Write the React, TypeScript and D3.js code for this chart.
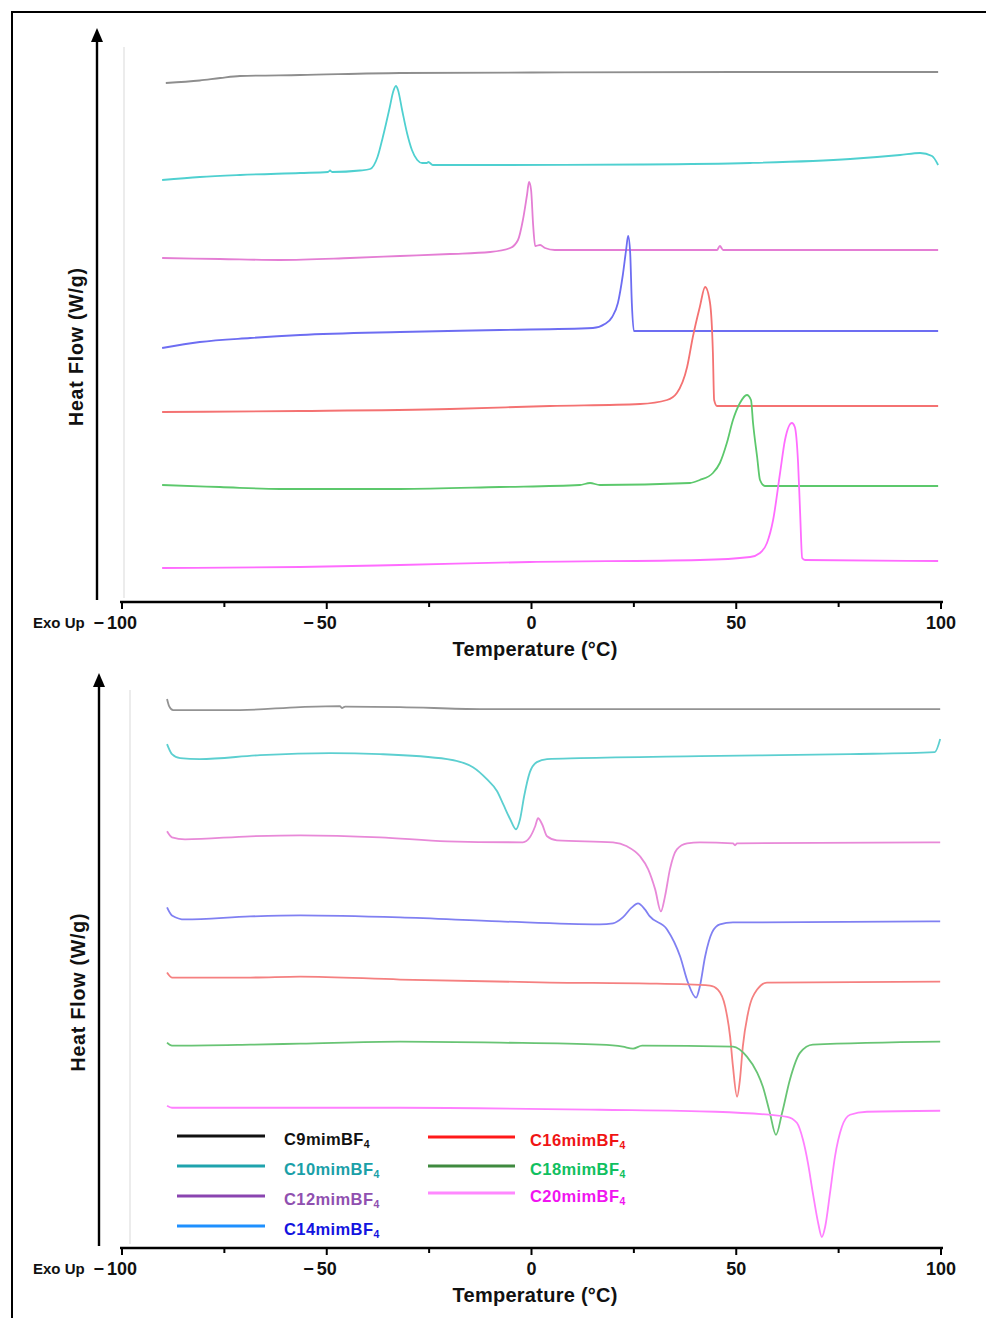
import React from "react";
import * as d3 from "d3";

type Pt = [number, number];

// ---------- DATA (temperature °C, heat flow in arbitrary offset units) ----------
const seriesNames = ["C9mimBF", "C10mimBF", "C12mimBF", "C14mimBF", "C16mimBF", "C18mimBF", "C20mimBF"];
const xTicks = [-100, -75, -50, -25, 0, 25, 50, 75, 100];
const xTickLabels = [-100, -50, 0, 50, 100];

// Cooling (top panel)
const c9Top: Pt[] = [[-89.3, 51.9], [-81, 52.15], [-76, 52.4], [-71.2, 52.6], [-56.5, 52.7], [-32.1, 52.9], [0, 52.95], [50, 53.0], [99.3, 53.0]];
const c10Top: Pt[] = [[-90.2, 42.2], [-81.0, 42.5], [-71.2, 42.7], [-56.5, 42.9], [-49.7, 43.0], [-49.2, 43.15], [-48.7, 43.0], [-41.9, 43.15], [-39.4, 43.3], [-37.6, 44.5], [-36.3, 46.5], [-34.6, 49.5], [-33.8, 51.0], [-33.1, 51.6], [-32.6, 51.2], [-31.6, 49.2], [-30.4, 46.9], [-29.2, 45.2], [-27.9, 44.2], [-26.7, 43.9], [-25.5, 43.9], [-25.2, 44.0], [-24.1, 43.7], [-7.7, 43.7], [26.5, 43.75], [53.4, 43.9], [77.8, 44.3], [90.0, 44.7], [94.9, 44.9], [97.8, 44.6], [99.3, 43.7]];
const c12Top: Pt[] = [[-90.2, 34.4], [-76.1, 34.3], [-61.4, 34.2], [-44.3, 34.4], [-32.1, 34.6], [-19.9, 34.8], [-10.1, 35.0], [-5.2, 35.4], [-3.3, 36.2], [-2.1, 38.2], [-1.1, 40.7], [-0.6, 42.0], [-0.1, 41.2], [0.4, 37.7], [0.9, 35.6], [2.1, 35.7], [3.3, 35.4], [5.7, 35.2], [41.1, 35.2], [45.3, 35.2], [46.0, 35.6], [46.8, 35.2], [99.3, 35.2]];
const c14Top: Pt[] = [[-90.2, 25.4], [-81.0, 26.0], [-68.7, 26.4], [-56.5, 26.7], [-32.1, 27.0], [-7.7, 27.2], [15.0, 27.4], [17.9, 27.8], [19.7, 28.5], [21.1, 29.9], [22.3, 32.7], [23.1, 35.2], [23.6, 36.6], [24.1, 34.9], [24.5, 29.9], [25.0, 27.1], [41.1, 27.1], [99.3, 27.1]];
const c16Top: Pt[] = [[-90.2, 19.0], [-56.5, 19.1], [-19.9, 19.3], [4.5, 19.6], [26.5, 19.8], [33.1, 20.2], [35.5, 20.9], [38.0, 23.5], [39.4, 26.5], [41.1, 29.5], [42.4, 31.5], [43.6, 29.9], [44.3, 24.9], [44.6, 20.2], [45.3, 19.6], [99.3, 19.6]];
const c18Top: Pt[] = [[-90.2, 11.7], [-76.1, 11.5], [-61.4, 11.3], [-32.1, 11.3], [-7.7, 11.5], [11.8, 11.7], [14.3, 11.9], [16.7, 11.7], [38.7, 11.9], [41.1, 12.2], [44.3, 12.9], [46.0, 13.9], [47.7, 15.9], [49.2, 18.2], [50.9, 19.9], [52.6, 20.7], [53.6, 20.2], [54.1, 17.9], [55.1, 14.5], [55.8, 12.2], [57.0, 11.6], [99.3, 11.6]];
const c20Top: Pt[] = [[-90.2, 3.4], [-56.5, 3.5], [-32.1, 3.7], [-0.4, 4.0], [41.1, 4.2], [53.4, 4.5], [55.8, 4.9], [57.5, 5.9], [59.0, 8.2], [60.7, 12.9], [61.9, 16.2], [63.6, 17.9], [64.3, 17.5], [65.1, 13.9], [65.6, 8.9], [66.1, 4.4], [66.8, 4.2], [99.3, 4.1]];

// Heating (bottom panel)
const c9Bot: Pt[] = [[-89.0, 54.8], [-88.5, 54.1], [-87.5, 53.7], [-81.0, 53.7], [-71.2, 53.7], [-56.5, 54.0], [-46.8, 54.1], [-46.3, 53.9], [-45.5, 54.05], [-32.1, 54.0], [-12.6, 53.8], [99.8, 53.8]];
const c10Bot: Pt[] = [[-89.0, 50.3], [-87.8, 49.3], [-85.8, 48.9], [-81.0, 48.8], [-66.3, 49.2], [-49.2, 49.4], [-37.0, 49.3], [-20.6, 48.8], [-14.3, 48.0], [-10.9, 46.8], [-8.4, 45.6], [-6.8, 44.2], [-5.2, 42.8], [-3.8, 41.8], [-2.8, 42.8], [-1.8, 45.1], [-0.4, 47.5], [1.3, 48.5], [3.8, 48.8], [11.8, 48.9], [41.1, 49.1], [77.8, 49.3], [98.5, 49.5], [99.8, 50.8]];
const c12Bot: Pt[] = [[-89.0, 41.6], [-87.8, 41.0], [-84.6, 40.8], [-68.7, 41.1], [-56.5, 41.2], [-37.0, 41.0], [-20.6, 40.6], [-2.1, 40.5], [-0.4, 41.0], [0.9, 42.1], [1.6, 42.9], [2.6, 42.3], [3.8, 41.1], [6.2, 40.7], [19.9, 40.5], [23.3, 40.1], [26.5, 39.1], [28.5, 37.8], [30.2, 35.8], [31.6, 33.6], [32.6, 35.1], [33.8, 37.8], [35.5, 39.8], [38.0, 40.4], [41.1, 40.5], [49.2, 40.4], [49.7, 40.2], [50.2, 40.4], [99.8, 40.5]];
const c14Bot: Pt[] = [[-89.0, 34.0], [-87.8, 33.2], [-84.6, 32.8], [-68.7, 33.1], [-56.5, 33.2], [-32.1, 33.0], [-7.7, 32.6], [16.7, 32.3], [19.9, 32.4], [22.3, 33.0], [24.5, 34.0], [26.0, 34.4], [27.7, 33.8], [28.9, 33.1], [33.1, 31.8], [36.3, 29.1], [38.2, 26.5], [40.2, 25.0], [41.1, 26.1], [42.4, 29.1], [44.1, 31.5], [46.0, 32.3], [49.2, 32.5], [99.8, 32.6]];
const c16Bot: Pt[] = [[-89.0, 27.5], [-87.8, 27.0], [-68.7, 27.0], [-56.5, 27.1], [-32.1, 26.8], [4.5, 26.5], [28.9, 26.4], [43.6, 26.2], [45.5, 25.8], [47.3, 24.1], [48.5, 21.1], [49.2, 18.1], [50.2, 15.1], [50.9, 16.8], [51.6, 20.1], [52.9, 23.5], [55.1, 25.8], [57.5, 26.5], [99.8, 26.6]];
const c18Bot: Pt[] = [[-89.0, 20.5], [-87.8, 20.2], [-68.7, 20.3], [-56.5, 20.4], [-32.1, 20.6], [-7.7, 20.5], [16.7, 20.3], [22.3, 20.1], [24.8, 19.9], [27.0, 20.2], [49.2, 20.1], [52.6, 19.1], [55.1, 17.5], [56.5, 16.1], [58.2, 13.5], [59.7, 11.3], [61.2, 13.5], [63.1, 16.8], [65.6, 19.5], [68.7, 20.3], [99.8, 20.6]];
const c20Bot: Pt[] = [[-89.0, 14.2], [-87.8, 14.0], [-68.7, 14.0], [-32.1, 14.0], [16.7, 13.8], [45.0, 13.6], [62.4, 13.1], [64.8, 12.5], [66.3, 10.8], [67.5, 8.5], [68.7, 5.5], [70.0, 2.5], [70.9, 1.1], [71.7, 2.1], [72.9, 5.5], [74.1, 9.1], [75.8, 12.1], [77.8, 13.3], [81.9, 13.6], [99.8, 13.7]];

const topSeries = [c9Top, c10Top, c12Top, c14Top, c16Top, c18Top, c20Top];
const bottomSeries = [c9Bot, c10Bot, c12Bot, c14Bot, c16Bot, c18Bot, c20Bot];

const topColors = ["#8e8e8e", "#4fd0d0", "#e47ed4", "#6d6df2", "#f47272", "#5cc86c", "#ff6cff"];
const bottomColors = ["#939393", "#5ccfd0", "#e889d8", "#8080f2", "#f58080", "#68c474", "#ff80ff"];
const legendLineColors = ["#111111", "#1fa3ad", "#8a44b0", "#1e90ff", "#ff1a1a", "#3f8a3f", "#ff88ff"];
const legendTextColors = ["#111111", "#1aa0a8", "#9050b0", "#1414e0", "#f01414", "#10c060", "#f014f0"];

// ---------- LAYOUT ----------
const W = 986;
const H = 1318;
const FONT = "'Liberation Sans', Arial, sans-serif";

const x = d3.scaleLinear().domain([-100, 100]).range([122, 941]);

type PanelProps = { axisY: number; topY: number; arrowX: number; gridX: number; gridTop: number; data: Pt[][]; colors: string[] };

function Panel({ axisY, topY, arrowX, gridX, gridTop, data, colors }: PanelProps) {
  const y = d3.scaleLinear().domain([0, 57]).range([axisY, topY]);
  const line = d3
    .line<Pt>()
    .x((d) => x(d[0]))
    .y((d) => y(d[1]))
    .curve(d3.curveMonotoneX);
  const arrowTip = topY - 4;
  return (
    <g>
      <line x1={gridX} x2={gridX} y1={gridTop} y2={axisY - 4} stroke="#e6e6e6" strokeWidth={1.5} />
      {data.map((s, i) => (
        <path key={i} d={line(s) || ""} fill="none" stroke={colors[i]} strokeWidth={1.8} strokeLinejoin="round" />
      ))}
      {/* y arrow */}
      <line x1={arrowX} x2={arrowX} y1={axisY - 2} y2={arrowTip + 12} stroke="#000" strokeWidth={2.4} />
      <path d={`M${arrowX},${arrowTip} L${arrowX - 6},${arrowTip + 14} L${arrowX + 6},${arrowTip + 14} Z`} fill="#000" />
      <text
        transform={`translate(${arrowX - 14},${(axisY + topY) / 2 + 30}) rotate(-90)`}
        textAnchor="middle"
        fontFamily={FONT}
        fontWeight="bold"
        fontSize={19.5}
        textLength={158}
        lengthAdjust="spacing"
        fill="#111"
      >
        Heat Flow (W/g)
      </text>
      {/* x axis */}
      <line x1={120} x2={943} y1={axisY} y2={axisY} stroke="#000" strokeWidth={2.4} />
      {xTicks.map((t) => (
        <line key={t} x1={x(t)} x2={x(t)} y1={axisY} y2={axisY + (t % 50 === 0 ? 7 : 5)} stroke="#000" strokeWidth={2} />
      ))}
      {xTickLabels.map((t) => {
        const digits = String(Math.abs(t));
        const half = (digits.length * 10) / 2;
        return (
          <g key={t}>
            <text x={x(t)} y={axisY + 27} textAnchor="middle" fontFamily={FONT} fontWeight="bold" fontSize={18} fill="#111">
              {digits}
            </text>
            {t < 0 && (
              <text x={x(t) - half - 3} y={axisY + 27} textAnchor="end" fontFamily={FONT} fontWeight="bold" fontSize={18} fill="#111">
                −
              </text>
            )}
          </g>
        );
      })}
      <text x={33} y={axisY + 26} fontFamily={FONT} fontWeight="bold" fontSize={15} fill="#111">
        Exo Up
      </text>
      <text x={535} y={axisY + 54} textAnchor="middle" fontFamily={FONT} fontWeight="bold" fontSize={20} textLength={165} lengthAdjust="spacing" fill="#111">
        Temperature (°C)
      </text>
    </g>
  );
}

const legendLeftY = [1136, 1166, 1196, 1226];
const legendRightY = [1137, 1166, 1193];

function Legend() {
  const items = seriesNames.map((name, i) => {
    const left = i < 4;
    const ly = left ? legendLeftY[i] : legendRightY[i - 4];
    const lx1 = left ? 177 : 428;
    const lx2 = left ? 265 : 515;
    const tx = left ? 284 : 530;
    return (
      <g key={name}>
        <line x1={lx1} x2={lx2} y1={ly} y2={ly} stroke={legendLineColors[i]} strokeWidth={3} />
        <text x={tx} y={ly + 9} fontFamily={FONT} fontWeight="bold" fontSize={16.5} letterSpacing={0.4} fill={legendTextColors[i]}>
          {name}
          <tspan fontSize={10.5} dy={3}>
            4
          </tspan>
        </text>
      </g>
    );
  });
  return <g>{items}</g>;
}

export default function App() {
  return (
    <svg width={W} height={H} style={{ display: "block", position: "absolute", left: 0, top: 0, background: "#fff" }}>
      <rect x={0} y={0} width={W} height={H} fill="#fff" />
      <path d={`M12,${H + 5} L12,12 L${W + 5},12`} fill="none" stroke="#000" strokeWidth={2} />
      <Panel axisY={602} topY={32} arrowX={97} gridX={124} gridTop={47} data={topSeries} colors={topColors} />
      <Panel axisY={1248} topY={677} arrowX={99} gridX={130} gridTop={690} data={bottomSeries} colors={bottomColors} />
      <Legend />
    </svg>
  );
}
